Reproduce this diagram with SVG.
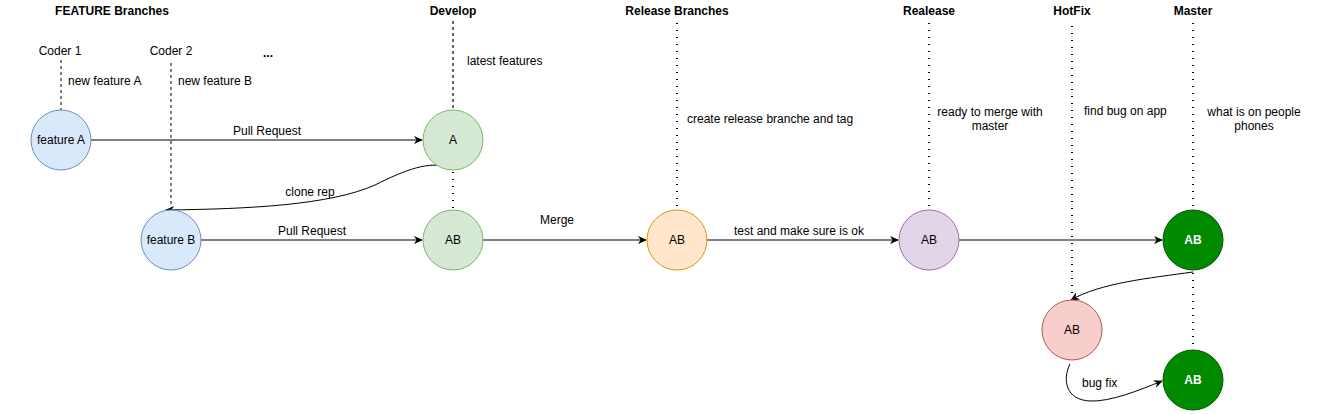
<svg xmlns="http://www.w3.org/2000/svg" width="1324" height="414" viewBox="0 0 1324 414">
<style>
text{font-family:"Liberation Sans",Arial,sans-serif;font-size:12px;fill:#000}
.t{font-weight:bold}
.c{text-anchor:middle}
.n{text-anchor:middle;dominant-baseline:central}
.w{fill:#fff;font-weight:bold}
.e{fill:none;stroke:#000;stroke-width:1}
.dash{fill:none;stroke:#000;stroke-dasharray:3 3}
.gdash{fill:none;stroke:#666;stroke-width:2;stroke-dasharray:3 3}
.dot{fill:none;stroke:#000;stroke-width:2;stroke-dasharray:1 6}
.blue{fill:#dae8fc;stroke:#6c8ebf}
.green{fill:#d5e8d4;stroke:#82b366}
.orange{fill:#ffe6cc;stroke:#d79b00}
.purple{fill:#e1d5e7;stroke:#9673a6}
.dg{fill:#008a00;stroke:#005700}
.red{fill:#f8cecc;stroke:#b85450}
</style>
<defs>
<marker id="arr" viewBox="0 0 10 10" refX="9" refY="5" markerWidth="9" markerHeight="9" markerUnits="userSpaceOnUse" orient="auto">
<path d="M0,0.5 L10,5 L0,9.5 L3,5 Z" fill="#000"/>
</marker>
</defs>
<g id="titles">
<text class="t c" x="112" y="15">FEATURE Branches</text>
<text class="t c" x="453" y="15">Develop</text>
<text class="t c" x="677" y="15">Release Branches</text>
<text class="t c" x="929" y="15">Realease</text>
<text class="t c" x="1072" y="15">HotFix</text>
<text class="t c" x="1193" y="15">Master</text>
<text class="c" x="60" y="55">Coder 1</text>
<text class="c" x="171" y="55">Coder 2</text>
<text class="t c" x="268" y="57">...</text>
<text x="68" y="85">new feature A</text>
<text x="178" y="85">new feature B</text>
<text x="467" y="65">latest features</text>
<text x="687" y="123">create release branche and tag</text>
<text class="c" x="990" y="116">ready to merge with</text>
<text class="c" x="990" y="130">master</text>
<text x="1084" y="115">find bug on app</text>
<text class="c" x="1254" y="116">what is on people</text>
<text class="c" x="1254" y="130">phones</text>
</g>
<g id="connectors">
<path class="dash" d="M61 60 L61 110"/>
<path class="dash" d="M171 63 L171 204"/>
<path class="gdash" d="M453 21 L453 108"/>
<path class="dot" d="M453 172 L453 209"/>
<path class="dot" d="M677 23 L677 209"/>
<path class="dot" d="M929 23 L929 209"/>
<path class="dot" d="M1072 26 L1072 294"/>
<path class="dot" d="M1193 23 L1193 209"/>
<path class="dot" d="M1193 273 L1193 349"/>
<path class="e" marker-end="url(#arr)" d="M91 140 L422 140"/>
<text class="c" x="267" y="135">Pull Request</text>
<path class="e" marker-end="url(#arr)" d="M450 168 C430 160 405 170 375 185 C330 205 250 209 166 210"/>
<text class="c" x="310" y="196">clone rep</text>
<path class="e" marker-end="url(#arr)" d="M201 240 L422 240"/>
<text class="c" x="312" y="235">Pull Request</text>
<path class="e" marker-end="url(#arr)" d="M483 240 L646 240"/>
<text class="c" x="557" y="224">Merge</text>
<path class="e" marker-end="url(#arr)" d="M707 240 L898 240"/>
<text class="c" x="799" y="235">test and make sure is ok</text>
<path class="e" marker-end="url(#arr)" d="M959 240 L1162 240"/>
<path class="e" marker-end="url(#arr)" d="M1193 272 C1150 278 1100 283 1071 300"/>
<path class="e" marker-end="url(#arr)" d="M1070 364 C1062 380 1066 400 1090 401 C1110 402 1140 390 1162 381"/>
<text x="1082" y="387">bug fix</text>
</g>
<g id="featureA"><circle class="blue" cx="61" cy="140" r="30"/><text class="n" x="61" y="140">feature A</text></g>
<g id="developA"><circle class="green" cx="453" cy="140" r="30"/><text class="n" x="453" y="140">A</text></g>
<g id="featureB"><circle class="blue" cx="171" cy="240" r="30"/><text class="n" x="171" y="240">feature B</text></g>
<g id="developAB"><circle class="green" cx="453" cy="240" r="30"/><text class="n" x="453" y="240">AB</text></g>
<g id="releaseAB"><circle class="orange" cx="677" cy="240" r="30"/><text class="n" x="677" y="240">AB</text></g>
<g id="realeaseAB"><circle class="purple" cx="929" cy="240" r="30"/><text class="n" x="929" y="240">AB</text></g>
<g id="masterAB"><circle class="dg" cx="1193" cy="240" r="30"/><text class="n w" x="1193" y="240">AB</text></g>
<g id="hotfixAB"><circle class="red" cx="1072" cy="330" r="30"/><text class="n" x="1072" y="330">AB</text></g>
<g id="masterAB2"><circle class="dg" cx="1193" cy="380" r="30"/><text class="n w" x="1193" y="380">AB</text></g>
</svg>
